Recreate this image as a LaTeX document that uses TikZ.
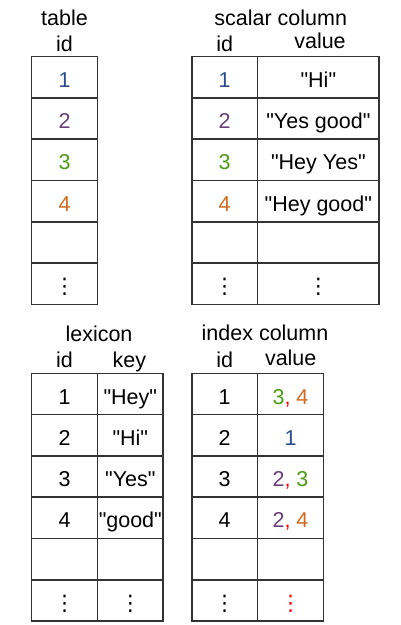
\documentclass[tikz,border=0pt]{standalone}
\usepackage{fontspec}
\setmainfont{Liberation Sans}[Ligatures=TeXOff]
\newfontfamily\djv{DejaVu Sans}
\definecolor{cb}{HTML}{2B4C8C}
\definecolor{cp}{HTML}{6A3F75}
\definecolor{cg}{HTML}{4E9A16}
\definecolor{co}{HTML}{D2691E}
\definecolor{cr}{HTML}{FF0000}
\definecolor{ln}{HTML}{333333}
\newcommand{\vd}{{\djv ⋮}}
\tikzset{
  cell/.style={draw=ln, line width=1.5bp, inner sep=0pt, minimum height=41.3bp,
    text height=20.2bp, text depth=0pt, font=\fontsize{21.5bp}{24bp}\selectfont},
  nar/.style={cell, minimum width=65.8bp},
  wid/.style={cell, minimum width=121.3bp},
  lbl/.style={inner sep=0pt, anchor=base, font=\fontsize{21.5bp}{24bp}\selectfont}
}
\begin{document}
\begin{tikzpicture}[x=1bp,y=-1bp]
\useasboundingbox (0,0) rectangle (400,625);
% ---- table
\node[lbl] (tabt) at (64.5,26) {table};
\node[lbl] (tabid) at (64.5,51.7) {id};
\node[nar] (t1) at (64.5,77.3) {\color{cb}1};
\node[nar] (t2) at (64.5,118.6) {\color{cp}2};
\node[nar] (t3) at (64.5,159.9) {\color{cg}3};
\node[nar] (t4) at (64.5,201.2) {\color{co}4};
\node[nar] (t5) at (64.5,242.5) {};
\node[nar] (t6) at (64.5,283.8) {\vd};
% ---- scalar column
\node[lbl] (sct) at (280.7,26) {scalar column};
\node[lbl] (scid) at (224.7,51.7) {id};
\node[lbl] (scval) at (320,48.3) {value};
\node[nar] (s1) at (224.7,77.3) {\color{cb}1};
\node[nar] (s2) at (224.7,118.6) {\color{cp}2};
\node[nar] (s3) at (224.7,159.9) {\color{cg}3};
\node[nar] (s4) at (224.7,201.2) {\color{co}4};
\node[nar] (s5) at (224.7,242.5) {};
\node[nar] (s6) at (224.7,283.8) {\vd};
\node[wid] (v1) at (318.35,77.3) {"Hi"};
\node[wid] (v2) at (318.35,118.6) {"Yes good"};
\node[wid] (v3) at (318.35,159.9) {"Hey Yes"};
\node[wid] (v4) at (318.35,201.2) {"Hey good"};
\node[wid] (v5) at (318.35,242.5) {};
\node[wid] (v6) at (318.35,283.8) {\vd};
% ---- lexicon
\node[lbl] (lxt) at (99,341.7) {lexicon};
\node[lbl] (lxid) at (64.5,367.3) {id};
\node[lbl] (lxkey) at (129.3,367.3) {key};
\node[nar] (l1) at (64.5,393.9) {1};
\node[nar] (l2) at (64.5,435.2) {2};
\node[nar] (l3) at (64.5,476.5) {3};
\node[nar] (l4) at (64.5,517.8) {4};
\node[nar] (l5) at (64.5,559.1) {};
\node[nar] (l6) at (64.5,600.4) {\vd};
\node[nar] (k1) at (130.3,393.9) {"Hey"};
\node[nar] (k2) at (130.3,435.2) {"Hi"};
\node[nar] (k3) at (130.3,476.5) {"Yes"};
\node[nar] (k4) at (130.3,517.8) {"good"};
\node[nar] (k5) at (130.3,559.1) {};
\node[nar] (k6) at (130.3,600.4) {\vd};
% ---- index column
\node[lbl] (ixt) at (265,340.7) {index column};
\node[lbl] (ixid) at (224.7,367.3) {id};
\node[lbl] (ixval) at (290.7,365) {value};
\node[nar] (i1) at (224.7,393.9) {1};
\node[nar] (i2) at (224.7,435.2) {2};
\node[nar] (i3) at (224.7,476.5) {3};
\node[nar] (i4) at (224.7,517.8) {4};
\node[nar] (i5) at (224.7,559.1) {};
\node[nar] (i6) at (224.7,600.4) {\vd};
\node[nar] (w1) at (290.5,393.9) {{\color{cg}3}{\color{cr},} {\color{co}4}};
\node[nar] (w2) at (290.5,435.2) {\color{cb}1};
\node[nar] (w3) at (290.5,476.5) {{\color{cp}2}{\color{cr},} {\color{cg}3}};
\node[nar] (w4) at (290.5,517.8) {{\color{cp}2}{\color{cr},} {\color{co}4}};
\node[nar] (w5) at (290.5,559.1) {};
\node[nar] (w6) at (290.5,600.4) {\color{cr}\vd};
\end{tikzpicture}
\end{document}
